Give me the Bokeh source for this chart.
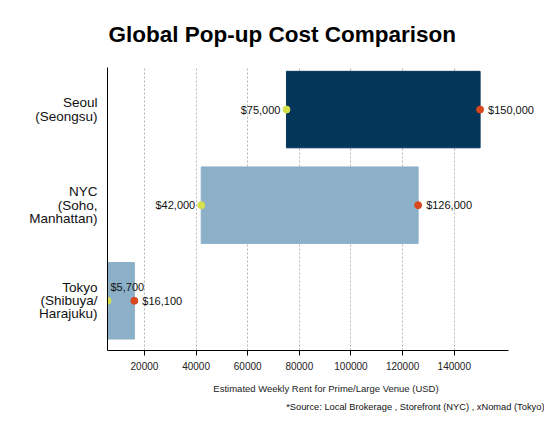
from bokeh.plotting import figure
from bokeh.models import Range1d, FixedTicker, Title, ColumnDataSource, BasicTickFormatter
from bokeh.core.properties import value
from bokeh.embed import file_html
from bokeh.resources import INLINE

# data
cities = ["Tokyo\n(Shibuya/\nHarajuku)", "NYC\n(Soho,\nManhattan)", "Seoul\n(Seongsu)"]
low_rent = [5700, 42000, 75000]
high_rent = [16100, 126000, 150000]
bar_colors = ["#8bb0c8", "#8bb0c8", "#04365a"]
x_ticks = [20000, 40000, 60000, 80000, 100000, 120000, 140000]

FONT = "Liberation Sans"
W, H = 544, 414
LEFT, TOP, BOTTOM = 107, 67, 64
AXIS_PX = 401  # drawn length of the x axis
x_start, x_end = 5700, 161000
# frame runs to the right edge so the end labels are not clipped
frame_px = W - LEFT
x_range_end = x_start + (x_end - x_start) * frame_px / AXIS_PX

p = figure(width=W, height=H, output_backend="svg", toolbar_location=None,
           x_range=Range1d(x_start, x_range_end), y_range=Range1d(-0.52, 2.44),
           min_border_left=LEFT, min_border_right=0, min_border_top=TOP,
           min_border_bottom=BOTTOM)

p.title.text = "Global Pop-up Cost Comparison"
p.title.text_font = FONT
p.title.text_font_size = "22.5px"
p.title.text_font_style = "bold"
p.title.text_color = "black"
p.title.align = "left"
p.title.vertical_align = "middle"
p.title.offset = 1
p.title.standoff = 40

ys = list(range(len(cities)))
p.hbar(y=ys, left=low_rent, right=high_rent, height=0.8, color=bar_colors)

# start labels sit left of the dot unless there is no room, then above it
lo_fmt = ["$" + format(v, ",") for v in low_rent]
hi_fmt = ["$" + format(v, ",") for v in high_rent]
lo_align, lo_dx, lo_dy = [], [], []
for v in low_rent:
    if v - x_start < 10000:
        lo_align.append("left")
        lo_dx.append(3)
        lo_dy.append(-14)
    else:
        lo_align.append("right")
        lo_dx.append(-6)
        lo_dy.append(0)

src = ColumnDataSource(dict(y=ys, lo=low_rent, hi=high_rent, lo_t=lo_fmt, hi_t=hi_fmt,
                            lo_align=lo_align, lo_dx=lo_dx, lo_dy=lo_dy))

p.text(x="lo", y="y", text="lo_t", source=src, text_align="lo_align",
       x_offset="lo_dx", y_offset="lo_dy", text_baseline="middle",
       text_font=value(FONT), text_font_size="11px", text_color="#111111")
p.text(x="hi", y="y", text="hi_t", source=src, text_align="left",
       x_offset=8, text_baseline="middle",
       text_font=value(FONT), text_font_size="11px", text_color="#111111")

p.scatter(x="lo", y="y", source=src, size=7, color="#d6e04c")
p.scatter(x="hi", y="y", source=src, size=7, color="#d9471f")

# axes
p.xaxis.bounds = (x_start, x_end)
p.xaxis.ticker = FixedTicker(ticks=x_ticks)
p.xaxis.formatter = BasicTickFormatter(use_scientific=False)
p.xaxis.minor_tick_line_color = None
p.xaxis.major_tick_in = 0
p.xaxis.major_tick_out = 5
p.xaxis.major_label_text_font = FONT
p.xaxis.major_label_text_font_size = "10px"
p.xaxis.major_label_text_color = "#222222"
p.xaxis.major_label_standoff = 6
p.xaxis.axis_label = "Estimated Weekly Rent for Prime/Large Venue (USD)"
p.xaxis.axis_label_text_font = FONT
p.xaxis.axis_label_text_font_size = "9.5px"
p.xaxis.axis_label_text_font_style = "normal"
p.xaxis.axis_label_text_color = "#222222"
p.xaxis.axis_label_standoff = 10
p.xaxis.axis_line_color = "black"

p.yaxis.ticker = FixedTicker(ticks=ys)
p.yaxis.major_label_overrides = {i: c for i, c in enumerate(cities)}
p.yaxis.major_tick_line_color = None
p.yaxis.minor_tick_line_color = None
p.yaxis.major_label_standoff = 4
p.yaxis.major_label_text_font = FONT
p.yaxis.major_label_text_font_size = "13.5px"
p.yaxis.major_label_text_color = "#111111"
p.yaxis.major_label_text_align = "right"
p.yaxis.major_label_text_line_height = 0.88
p.yaxis.axis_line_color = "black"

p.ygrid.grid_line_color = None
p.xgrid.grid_line_color = "#b5b5b5"
p.xgrid.grid_line_dash = "2 2"
p.outline_line_color = None

p.add_layout(Title(text="*Source: Local Brokerage , Storefront (NYC) , xNomad (Tokyo)",
                   align="right", text_font=FONT, text_font_size="9.3px",
                   text_font_style="normal", text_color="#111111", standoff=6),
             "below")

open("out.html", "w").write(file_html(p, INLINE))
